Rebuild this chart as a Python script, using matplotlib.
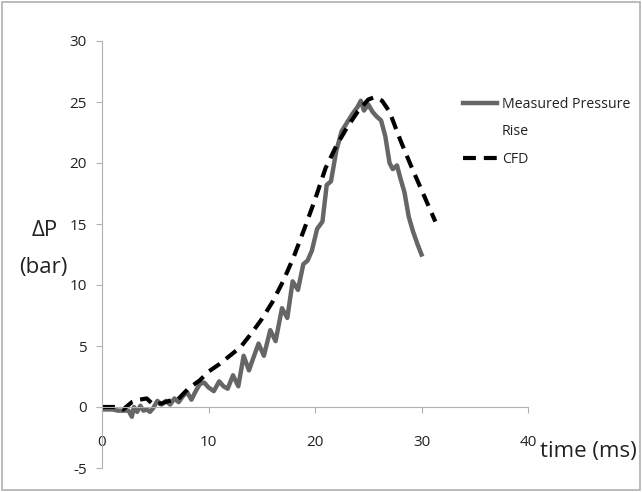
import matplotlib.pyplot as plt
from matplotlib.lines import Line2D
from matplotlib.patches import Rectangle

MEASURED_COLOR = "#666666"
CFD_COLOR = "#000000"
TEXT_COLOR = "#222222"

# measured pressure rise (time in ms, dP in bar)
measured_t = [0, 0.5, 1, 1.5, 2, 2.5, 2.8, 3.0, 3.3, 3.6, 3.9, 4.2, 4.5, 4.8, 5.2, 5.6,
              6.0, 6.4, 6.8, 7.2, 7.6, 8.0, 8.4, 8.8, 9.2, 9.6, 10.0, 10.5, 11.0, 11.4,
              11.8, 12.3, 12.8, 13.3, 13.8, 14.2, 14.7, 15.2, 15.8, 16.3, 16.9, 17.4,
              17.9, 18.4, 18.9, 19.3, 19.7, 20.2, 20.7, 21.1, 21.5, 22.0, 22.5, 23.0,
              23.5, 24.0, 24.3, 24.6, 25.0, 25.4, 25.8, 26.2, 26.6, 27.0, 27.3, 27.7,
              28.0, 28.4, 28.8, 29.2, 29.6, 30.0]
measured_p = [-0.2, -0.2, -0.2, -0.3, -0.3, -0.3, -0.8, 0.0, -0.4, 0.1, -0.3, -0.2, -0.4,
              -0.1, 0.5, 0.2, 0.5, 0.2, 0.7, 0.4, 0.9, 1.2, 0.6, 1.3, 1.9, 2.0, 1.6, 1.3,
              2.1, 1.7, 1.5, 2.6, 1.7, 4.2, 3.0, 4.0, 5.2, 4.2, 6.3, 5.4, 8.1, 7.3, 10.3,
              9.6, 11.7, 12.0, 12.8, 14.6, 15.2, 18.2, 18.5, 21.0, 22.6, 23.3, 24.0, 24.6,
              25.1, 24.3, 24.8, 24.2, 23.8, 23.5, 22.2, 20.0, 19.5, 19.8, 18.8, 17.6, 15.6,
              14.4, 13.4, 12.5]

# CFD prediction
cfd_t = [0, 1.4, 2.0, 2.8, 3.5, 4.2, 4.8, 5.6, 6.3, 7.1, 8.1, 9.2, 10.0, 11.0, 12.0,
         13.0, 14.0, 15.0, 16.0, 17.0, 18.0, 19.0, 20.0, 21.0, 22.0, 23.0, 24.0, 25.0,
         25.6, 26.3, 27.0, 28.0, 29.0, 30.0, 31.3]
cfd_p = [0.0, 0.0, -0.2, 0.4, 0.6, 0.7, 0.2, 0.3, 0.5, 0.6, 1.5, 2.2, 2.9, 3.5, 4.2,
         4.9, 6.0, 7.2, 8.6, 10.3, 12.3, 14.6, 17.0, 19.6, 21.4, 22.9, 24.2, 25.2,
         25.4, 25.1, 24.2, 21.9, 19.8, 17.8, 15.2]

x_ticks = [0, 10, 20, 30, 40]
y_ticks = [-5, 0, 5, 10, 15, 20, 25, 30]


def main() -> None:
    plt.rcParams["font.family"] = ["Open Sans", "DejaVu Sans"]
    plt.rcParams["axes.unicode_minus"] = False

    fig = plt.figure(figsize=(6.42, 4.92), dpi=100)
    fig.patches.append(Rectangle((0.003, 0.004), 0.994, 0.992, transform=fig.transFigure,
                                 fill=False, edgecolor="#b0b0b0", linewidth=1.2))
    ax = fig.add_axes([102 / 642, 24 / 492, 426 / 642, 427 / 492])

    ax.plot(measured_t, measured_p, color=MEASURED_COLOR, linewidth=3.2,
            solid_joinstyle="round", label="Measured Pressure")
    ax.plot(cfd_t, cfd_p, color=CFD_COLOR, linewidth=3.0, dashes=(3.1, 1.9), label="CFD")

    ax.set_xlim(0, 40)
    ax.set_ylim(-5, 30)
    ax.set_xticks(x_ticks)
    ax.set_yticks(y_ticks)

    for side in ["top", "right"]:
        ax.spines[side].set_visible(False)
    ax.spines["bottom"].set_position(("data", 0))
    ax.spines["left"].set_color("#b0b0b0")
    ax.spines["bottom"].set_color("#b0b0b0")
    ax.tick_params(axis="both", colors="#b0b0b0", labelcolor=TEXT_COLOR, labelsize=11,
                   direction="out", length=4)
    ax.tick_params(axis="x", pad=16)
    ax.tick_params(axis="y", pad=7)

    fig.text(45 / 642, 1 - 230 / 492, "\u0394P", fontsize=16, color=TEXT_COLOR,
             ha="center", va="center")
    fig.text(43 / 642, 1 - 268 / 492, "(bar)", fontsize=16, color=TEXT_COLOR,
             ha="center", va="center")
    fig.text(588 / 642, 1 - 452 / 492, "time (ms)", fontsize=16, color=TEXT_COLOR,
             ha="center", va="center")

    handles = [
        Line2D([], [], color=MEASURED_COLOR, linewidth=3.2),
        Line2D([], [], color="none"),
        Line2D([], [], color=CFD_COLOR, linewidth=3.0, dashes=(3.1, 1.9)),
    ]
    fig.legend(handles, ["Measured Pressure", "Rise", "CFD"], loc="upper left",
               bbox_to_anchor=(450 / 642, 1 - 84 / 492), frameon=False, fontsize=10.2,
               handlelength=2.4, handletextpad=0.35, labelspacing=0.9,
               labelcolor=TEXT_COLOR)

    fig.savefig("out.png", dpi=100)
    plt.close(fig)


if __name__ == "__main__":
    main()
